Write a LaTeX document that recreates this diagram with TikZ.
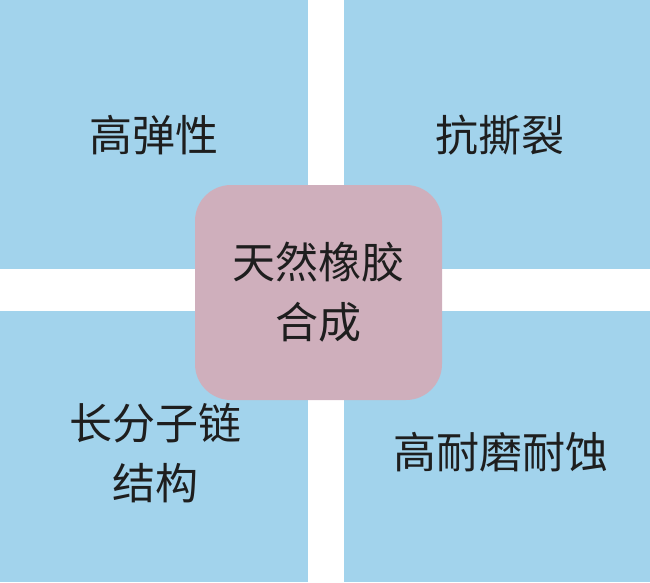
\documentclass[tikz,border=0pt]{standalone}
\usepackage{fontspec}
\setmainfont{Noto Sans CJK SC}

\definecolor{blockblue}{HTML}{A2D3EC}
\definecolor{corepink}{HTML}{CFAFBC}
\definecolor{inkgray}{HTML}{1E1E1E}

\tikzset{
	block/.style = {fill = blockblue,
					shape = rectangle,
					inner sep = 0pt,
					anchor = north west},
	tag/.style = {text = inkgray,
				  align = center,
				  font = \fontsize{43pt}{60pt}\selectfont},
	core/.style = {fill = corepink,
				   shape = rectangle,
				   rounded corners = 36pt,
				   minimum width = 247pt,
				   minimum height = 215pt,
				   text = inkgray,
				   align = center,
				   font = \fontsize{43pt}{60pt}\selectfont}
}

\begin{document}
\begin{tikzpicture}[x = 1pt, y = -1pt]
	\useasboundingbox (0, 0) rectangle (650, 582);

	\draw (0, 0) node[block,
					  minimum width = 308pt,
					  minimum height = 269pt
			   ](TL){};
	\draw (344, 0) node[block,
						minimum width = 306pt,
						minimum height = 269pt
			   ](TR){};
	\draw (0, 311) node[block,
						minimum width = 308pt,
						minimum height = 271pt
			   ](BL){};
	\draw (344, 311) node[block,
						  minimum width = 306pt,
						  minimum height = 271pt
			   ](BR){};

	\draw (154, 135) node[tag](elastic){高弹性};
	\draw (500, 135) node[tag](tear){抗撕裂};
	\draw (155, 453) node[tag](chain){长分子链\\结构};
	\draw (501, 452) node[tag](wear){高耐磨耐蚀};

	\draw (318.5, 292.5) node[core](rubber){天然橡胶\\合成};
\end{tikzpicture}
\end{document}
